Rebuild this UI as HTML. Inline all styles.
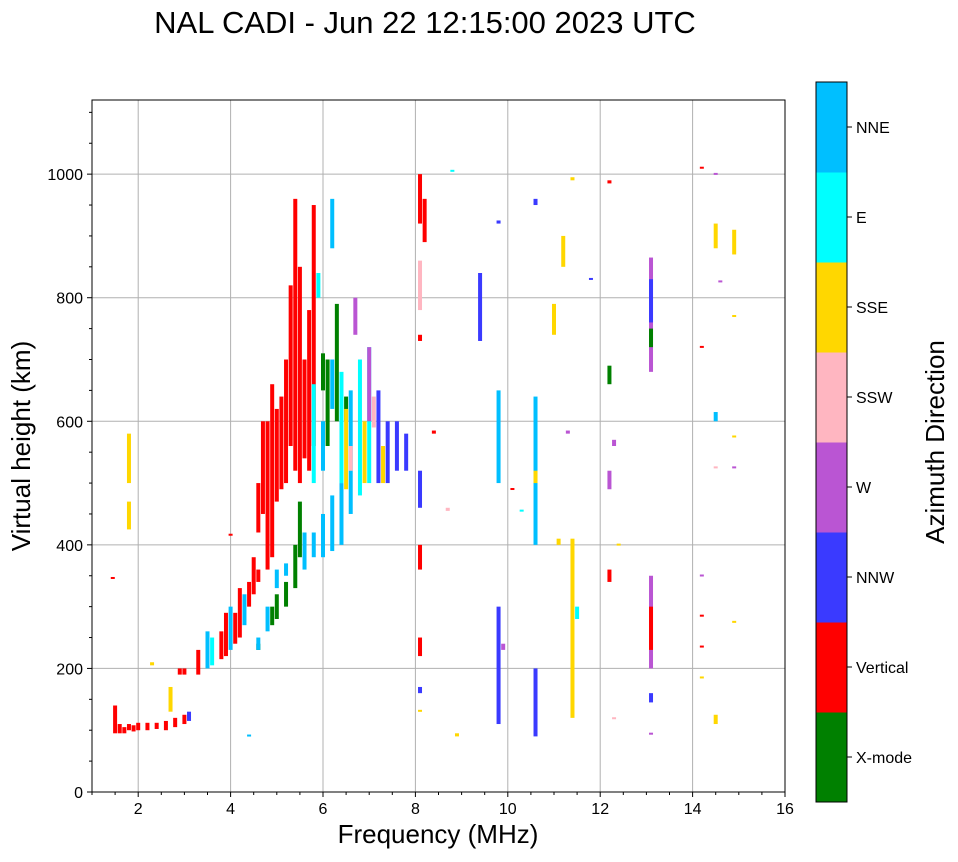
<!DOCTYPE html>
<html><head><meta charset="utf-8"><style>
body{margin:0;background:#fff;font-family:"Liberation Sans",sans-serif}
svg text{font-family:"Liberation Sans",sans-serif}
</style></head><body>
<svg id="c" width="958" height="857">
<text x="425" y="33" font-size="31" text-anchor="middle">NAL CADI - Jun 22 12:15:00 2023 UTC</text>
<g id="grid"></g><g id="marks"></g><g id="axes"></g><g id="cbar"></g>
<text x="438" y="843" font-size="26" text-anchor="middle">Frequency (MHz)</text>
<text transform="translate(30,446) rotate(-90)" font-size="26" text-anchor="middle">Virtual height (km)</text>
<text transform="translate(944,442) rotate(-90)" font-size="26" text-anchor="middle">Azimuth Direction</text>
</svg>
<script>
const xTicks=[2,4,6,8,10,12,14,16];
const yTicks=[0,200,400,600,800,1000];
const categories=["X-mode","Vertical","NNW","W","SSW","SSE","E","NNE"];
const catColors=["#008000","#ff0000","#3a3aff","#ba55d3","#ffb6c1","#ffd700","#00ffff","#00bfff"];
// echoes: [freq MHz, h0 km, h1 km, category]
const echoes=[
[1.5,95,140,1],[1.6,95,110,1],[1.7,95,105,1],[1.8,100,110,1],[1.9,98,108,1],[2.0,100,112,1],[2.2,100,112,1],[2.4,102,112,1],[2.6,100,115,1],[2.8,105,120,1],[3.0,110,125,1],[3.1,115,130,2],[2.7,130,170,5],[1.8,425,470,5],[1.8,500,580,5],[1.45,345,348,1],[2.3,205,210,5],[4.4,90,93,7],
[2.9,190,200,1],[3.0,190,200,1],[3.3,190,230,1],[3.5,200,260,7],[3.6,205,250,6],[3.8,215,260,1],[3.9,220,290,1],[4.0,230,300,7],[4.1,240,290,1],[4.2,250,330,1],[4.3,270,320,7],[4.4,300,340,1],[4.5,320,380,1],[4.6,340,360,1],[4.6,420,500,1],[4.7,450,600,1],[4.8,360,600,1],[4.9,380,660,1],[5.0,470,620,1],[5.1,490,640,1],[5.2,500,700,1],[5.3,560,820,1],[5.4,520,960,1],[5.5,500,850,1],[5.6,540,700,1],[5.7,520,780,1],[5.8,560,950,1],[4.0,415,418,1],
[4.9,270,300,0],[5.0,280,320,0],[5.2,300,340,0],[5.4,330,400,0],[5.5,380,470,0],[6.1,560,700,0],[6.3,600,790,0],[6.5,600,640,0],[6.0,650,710,0],[4.6,230,240,0],
[4.6,230,250,7],[4.8,260,300,7],[5.0,330,360,7],[5.2,350,370,7],[5.6,360,420,7],[5.8,380,420,7],[6.0,380,450,7],[6.2,390,480,7],[6.4,400,500,7],[6.6,450,520,7],[5.8,500,660,6],[6.0,520,600,7],[6.2,880,960,7],[6.4,500,680,6],[6.6,520,650,7],[6.8,480,700,6],[7.0,500,720,6],[7.2,500,650,2],[7.4,500,600,2],[7.6,520,600,2],[7.8,520,580,2],[6.7,740,800,3],[7.0,600,720,3],[6.5,490,620,5],[6.9,500,600,5],[7.3,500,560,5],[7.1,590,640,4],[6.6,520,560,4],[6.2,620,700,7],[5.9,800,840,6],
[8.1,920,1000,1],[8.1,780,860,4],[8.1,730,740,1],[8.1,460,520,2],[8.1,360,400,1],[8.1,220,250,1],[8.1,160,170,2],[8.1,130,133,5],[8.4,580,585,1],[8.2,890,960,1],
[9.8,110,300,2],[9.8,500,650,7],[9.8,920,925,2],[10.6,90,200,2],[10.6,400,640,7],[10.6,500,520,5],[10.6,950,960,2],[11.4,990,995,5],[11.4,120,410,5],[11.4,370,390,5],
[12.2,660,690,0],[12.2,340,360,1],[12.2,490,520,3],[12.2,985,990,1],[12.3,560,570,3],
[13.1,680,865,3],[13.1,720,750,0],[13.1,760,830,2],[13.1,200,350,3],[13.1,230,300,1],[13.1,145,160,2],[13.1,93,96,3],
[14.2,1010,1012,1],[14.2,720,722,1],[14.2,285,287,1],[14.2,235,237,1],[14.2,350,352,3],[14.2,185,187,5],
[14.5,600,615,7],[14.5,110,125,5],[14.5,880,920,5],[14.5,525,527,4],[14.5,1000,1002,3],[14.9,770,772,5],[14.9,870,910,5],[14.9,525,527,3],[14.9,575,577,5],[14.9,275,277,5],[14.6,825,828,3],
[8.8,1005,1007,6],[8.9,90,95,5],[8.7,455,460,4],[9.4,730,840,2],[9.9,230,240,3],[10.1,490,492,1],[10.3,455,457,6],[11.1,400,410,5],[11.5,280,300,6],[11.3,580,585,3],[11.8,830,832,2],[12.4,400,402,5],[12.3,118,121,4],[11.0,740,790,5],[11.2,850,900,5]
];
const L=92,R=785,T=100,B=792,fmin=1,fmax=16,hmax=1120;
const xs=f=>L+(f-fmin)/(fmax-fmin)*(R-L);
const ys=h=>B-h/hmax*(B-T);
const NS="http://www.w3.org/2000/svg";
function mk(tag,attrs,parent,txt){const e=document.createElementNS(NS,tag);for(const k in attrs)e.setAttribute(k,attrs[k]);if(txt!==undefined)e.textContent=txt;parent.appendChild(e);return e;}
const grid=document.getElementById('grid'),marks=document.getElementById('marks'),axes=document.getElementById('axes'),cbar=document.getElementById('cbar');
mk('rect',{x:L,y:T,width:R-L,height:B-T,fill:'#fff'},grid);
xTicks.forEach(t=>{const x=xs(t);
 if(t<16){const g=mk('line',{x1:x,x2:x,y1:T,y2:B,stroke:'#b0b0b0','stroke-width':1},grid);}
 mk('line',{x1:x,x2:x,y1:B,y2:B+5,stroke:'#000'},axes);
 const tx=mk('text',{x:x,y:B+22,'font-size':16,'text-anchor':'middle'},axes,t);
 
 
});
yTicks.forEach(t=>{const y=ys(t);
 if(t>0){const g=mk('line',{x1:L,x2:R,y1:y,y2:y,stroke:'#b0b0b0','stroke-width':1},grid);}
 mk('line',{x1:L-5,x2:L,y1:y,y2:y,stroke:'#000'},axes);
 const tx=mk('text',{x:L-9,y:y+6,'font-size':16,'text-anchor':'end'},axes,t);
 
 
});
for(let v=50;v<hmax;v+=50){if(v%200)mk('line',{x1:L-3,x2:L,y1:ys(v),y2:ys(v),stroke:'#000'},axes);}
for(let v=1;v<16;v+=0.5){if(v%2)mk('line',{x1:xs(v),x2:xs(v),y1:B,y2:B+3,stroke:'#000'},axes);}
echoes.forEach(e=>{const y0=ys(e[2]),y1=ys(e[1]);
 const r=mk('rect',{x:xs(e[0])-2,y:y0,width:4,height:Math.max(2,y1-y0),fill:catColors[e[3]]},marks);
 
 
});
mk('rect',{x:L,y:T,width:R-L,height:B-T,fill:'none',stroke:'#000','stroke-width':1},axes);
const cx=816,cw=31,ct=82,cb=802,ch=(cb-ct)/categories.length;
categories.forEach((c,i)=>{const y=cb-(i+1)*ch;
 const r=mk('rect',{x:cx,y:y,width:cw,height:ch+0.5,fill:catColors[i]},cbar);
 
 
 mk('line',{x1:cx+cw,x2:cx+cw+5,y1:y+ch/2,y2:y+ch/2,stroke:'#000'},cbar);
 const t=mk('text',{x:cx+cw+9,y:y+ch/2+6,'font-size':16},cbar,c);
 
 
});
mk('rect',{x:cx,y:ct,width:cw,height:cb-ct,fill:'none',stroke:'#000'},cbar);
</script>
</body></html>
